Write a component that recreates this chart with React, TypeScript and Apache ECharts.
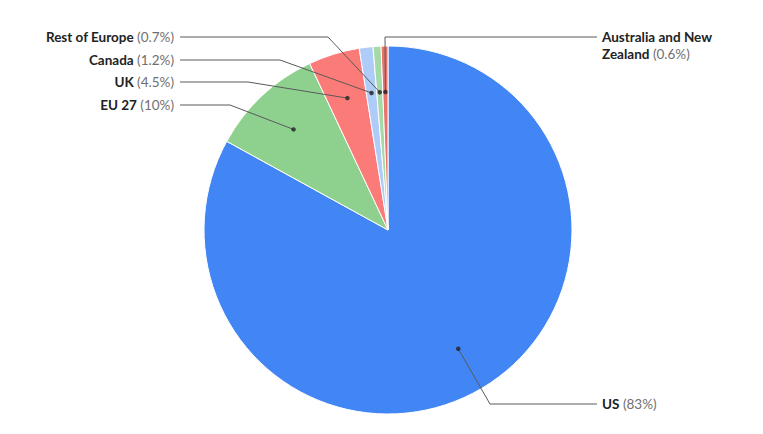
import React, { useEffect, useRef } from "react";
import * as echarts from "echarts";

// ---- data ----
const categories = ["US", "EU 27", "UK", "Canada", "Rest of Europe", "Australia and New Zealand"];
const shares = [83, 10, 4.5, 1.2, 0.7, 0.6];

// ---- styles / layout (not data) ----
const colors = ["#4285f4", "#8ed18f", "#fa7b78", "#afcbf7", "#a6d9a8", "#e8736c"];
const CENTER: [number, number] = [388, 230];
const RADIUS = 184;
const DOT_R = 0.75; // fraction of radius where the leader line starts
// elbow / end of each leader line and label anchor
const labelLayoutSpec = [
  { elbow: [490, 404], end: [597, 404], align: "left" },
  { elbow: [230, 105], end: [180, 105], align: "right" },
  { elbow: [248, 82], end: [180, 82], align: "right" },
  { elbow: [280, 60], end: [180, 60], align: "right" },
  { elbow: [328, 37], end: [180, 37], align: "right" },
  { elbow: [385, 37], end: [597, 37], align: "left" },
];

const total = shares.reduce((a, b) => a + b, 0);
const mids: number[] = [];
{
  let acc = 0;
  for (const v of shares) {
    mids.push(acc + v / 2);
    acc += v;
  }
}
function dotPoint(i: number): [number, number] {
  const ang = (mids[i] / total) * Math.PI * 2;
  return [CENTER[0] + RADIUS * DOT_R * Math.sin(ang), CENTER[1] - RADIUS * DOT_R * Math.cos(ang)];
}
function wrapName(name: string): string {
  if (name.length <= 18) return `{b|${name}}`;
  const words = name.split(" ");
  let first = "";
  let i = 0;
  while (i < words.length && (first + " " + words[i]).trim().length <= 18) {
    first = (first + " " + words[i]).trim();
    i++;
  }
  return `{b|${first}}\n{b|${words.slice(i).join(" ")}}`;
}

const pieData = categories.map((c, i) => ({ name: c, value: shares[i], itemStyle: { color: colors[i] } }));

export default function App() {
  const ref = useRef<HTMLDivElement>(null);
  useEffect(() => {
    if (!ref.current) return;
    const chart = echarts.init(ref.current, null, { renderer: "svg" });
    chart.setOption({
      animation: false,
      backgroundColor: "#ffffff",
      polar: { center: CENTER, radius: RADIUS },
      angleAxis: { type: "value", min: 0, max: total, startAngle: 90, clockwise: true, show: false },
      radiusAxis: { type: "value", min: 0, max: 1, show: false },
      series: [
        {
          type: "pie",
          z: 2,
          center: CENTER,
          radius: RADIUS,
          startAngle: 90,
          clockwise: true,
          data: pieData,
          itemStyle: { borderColor: "#ffffff", borderWidth: 1 },
          label: { show: false },
          labelLine: { show: false },
          emphasis: { disabled: true },
          silent: true,
        },
        {
          type: "pie",
          z: 5,
          center: CENTER,
          radius: RADIUS,
          startAngle: 90,
          clockwise: true,
          data: categories.map((c, i) => ({ name: c, value: shares[i] })),
          itemStyle: { color: "rgba(0,0,0,0)", borderWidth: 0 },
          label: {
            show: true,
            position: "outside",
            fontFamily: "Lato",
            fontSize: 13.5,
            lineHeight: 17,
            formatter: (p: any) => `${wrapName(p.name)} {p|(${p.value}%)}`,
            rich: {
              b: { fontFamily: "Lato", fontWeight: "bold", fontSize: 13.5, color: "#222222", lineHeight: 17 },
              p: { fontFamily: "Lato", fontSize: 13.5, color: "#707070", lineHeight: 17 },
            },
          },
          labelLine: { show: true, lineStyle: { color: "#5a5a5a", width: 1 } },
          labelLayout: (params: any) => {
            const i = params.dataIndex;
            const s = labelLayoutSpec[i];
            const x = s.align === "left" ? s.end[0] + 5 : s.end[0] - 6;
            return {
              x,
              y: s.end[1] - 8.5,
              align: s.align,
              verticalAlign: "top",
              labelLinePoints: [dotPoint(i), s.elbow, s.end],
            };
          },
          emphasis: { disabled: true },
          silent: true,
        },
        {
          type: "scatter",
          coordinateSystem: "polar",
          symbolSize: 4.5,
          itemStyle: { color: "#222222" },
          data: mids.map((m) => [DOT_R, m]),
          z: 10,
          silent: true,
        },
      ],
    });
    return () => chart.dispose();
  }, []);
  return <div ref={ref} style={{ position: "fixed", left: 0, top: 0, width: 763, height: 434 }} />;
}
